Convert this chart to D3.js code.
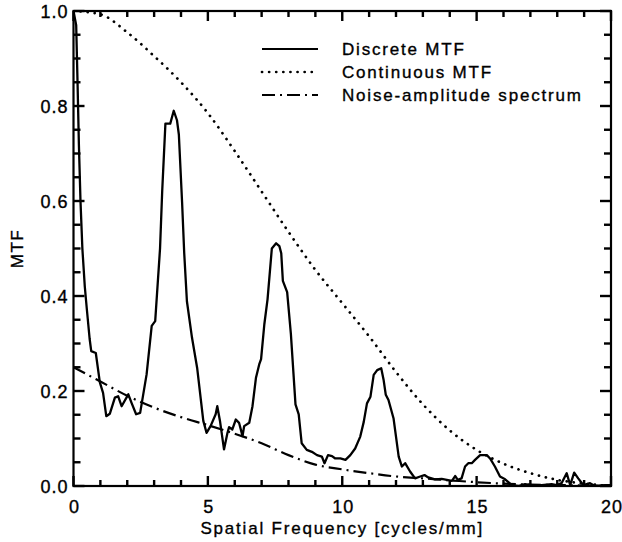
<!DOCTYPE html>
<html>
<head>
<meta charset="utf-8">
<script src="https://cdn.jsdelivr.net/npm/d3@7/dist/d3.min.js"></script>
<style>
html, body { margin: 0; padding: 0; background: #fff; }
svg { display: block; }
text { font-family: "Liberation Sans", Arial, sans-serif; fill: #000; stroke: #000; stroke-width: 0.35px; }
</style>
</head>
<body>
<svg id="chart" width="622" height="542"></svg>
<script>
// ---- data ----
const discreteFreq = [0.0,0.1,0.15,0.2,0.26,0.33,0.42,0.5,0.6,0.66,0.83,0.98,1.1,1.22,1.35,1.54,1.66,1.79,2.04,2.16,2.33,2.48,2.72,2.91,3.04,3.22,3.3,3.42,3.6,3.73,3.85,3.92,4.04,4.12,4.22,4.41,4.6,4.83,4.95,5.1,5.29,5.35,5.45,5.6,5.73,5.79,5.91,6.04,6.16,6.29,6.35,6.54,6.66,6.79,6.91,6.98,7.1,7.22,7.38,7.54,7.66,7.73,7.79,7.95,8.09,8.26,8.38,8.49,8.68,8.87,9.06,9.24,9.34,9.47,9.62,9.74,9.93,10.12,10.3,10.48,10.67,10.8,10.92,11.05,11.17,11.3,11.45,11.54,11.62,11.72,11.91,12.1,12.22,12.34,12.53,12.71,12.9,13.06,13.2,13.45,13.7,13.89,14.08,14.2,14.3,14.44,14.57,14.69,14.82,14.94,15.13,15.38,15.5,15.68,15.87,16.06,16.31,16.55,16.8,17.05,17.42,17.79,17.98,18.16,18.35,18.48,18.63,18.78,18.97,19.22,19.4,19.78,20.0];
const discreteMTF = [1.0,0.97,0.85,0.72,0.6,0.5,0.42,0.37,0.31,0.284,0.28,0.218,0.196,0.147,0.152,0.186,0.189,0.168,0.193,0.175,0.151,0.154,0.235,0.337,0.347,0.5,0.62,0.763,0.763,0.79,0.77,0.74,0.598,0.49,0.389,0.312,0.249,0.137,0.112,0.126,0.151,0.168,0.137,0.077,0.112,0.124,0.119,0.14,0.133,0.105,0.126,0.133,0.168,0.228,0.256,0.267,0.34,0.393,0.5,0.511,0.505,0.49,0.432,0.408,0.319,0.172,0.151,0.09,0.076,0.072,0.065,0.062,0.048,0.065,0.063,0.058,0.058,0.055,0.065,0.079,0.104,0.135,0.174,0.188,0.234,0.244,0.248,0.223,0.192,0.181,0.142,0.062,0.041,0.048,0.030,0.016,0.02,0.023,0.018,0.014,0.015,0.013,0.011,0.021,0.013,0.016,0.041,0.048,0.048,0.055,0.065,0.065,0.058,0.041,0.02,0.014,0.002,0,0.004,0.002,0.002,0.004,0.002,0.006,0.027,0.002,0.028,0.016,0.002,0.006,0,0.002,0.002];

const continuousFreq = [0,1,2,3,4,5,6,7,8,9,10,11,12,13,14,15,16,17,18,19,20];
const continuousMTF  = [1.0,0.993,0.955,0.905,0.85,0.785,0.705,0.62,0.535,0.455,0.385,0.315,0.24,0.172,0.117,0.076,0.047,0.027,0.013,0.005,0.0];

const noiseFreq = [0,1,2,3,4,5,6,7,8,9,10,11,12,13,14,15,16,17,18,19,20];
const noiseAmp  = [0.25,0.22,0.19,0.165,0.145,0.128,0.11,0.09,0.065,0.045,0.035,0.027,0.02,0.016,0.012,0.008,0.005,0.003,0.002,0.001,0.0];

const xTickValues = [0,5,10,15,20];
const xMinorTicks = [1,2,3,4,6,7,8,9,11,12,13,14,16,17,18,19];
const yTickValues = [0.0,0.2,0.4,0.6,0.8,1.0];
const yMinorTicks = [0.05,0.1,0.15,0.25,0.3,0.35,0.45,0.5,0.55,0.65,0.7,0.75,0.85,0.9,0.95];
const legendLabels = ["Discrete MTF","Continuous MTF","Noise-amplitude spectrum"];
const xTitle = "Spatial Frequency [cycles/mm]";
const yTitle = "MTF";

// ---- layout ----
const svg = d3.select("#chart");
const L = 73.5, R = 611, T = 11, B = 486;
const x = d3.scaleLinear().domain([0,20]).range([L,R]);
const y = d3.scaleLinear().domain([0,1]).range([B,T]);

const zip = (a,b) => a.map((v,i)=>[v,b[i]]);
const line = d3.line().x(d=>x(d[0])).y(d=>y(Math.max(0,d[1])));

svg.append("clipPath").attr("id","clip").append("rect")
  .attr("x",L).attr("y",T).attr("width",R-L).attr("height",B-T);
const plot = svg.append("g").attr("clip-path","url(#clip)");

plot.append("path").datum(zip(continuousFreq,continuousMTF))
  .attr("d", line.curve(d3.curveMonotoneX)).attr("fill","none").attr("stroke","#000")
  .attr("stroke-width",2.7).attr("stroke-linecap","round").attr("stroke-dasharray","0.1 7");

plot.append("path").datum(zip(noiseFreq,noiseAmp))
  .attr("d", line.curve(d3.curveMonotoneX)).attr("fill","none").attr("stroke","#000")
  .attr("stroke-width",2.2).attr("stroke-dasharray","13 5 2 5");

plot.append("path").datum(zip(discreteFreq,discreteMTF))
  .attr("d", line.curve(d3.curveLinear)).attr("fill","none").attr("stroke","#000")
  .attr("stroke-width",2.3).attr("stroke-linejoin","round");

// ---- frame ----
svg.append("rect").attr("x",L).attr("y",T).attr("width",R-L).attr("height",B-T)
  .attr("fill","none").attr("stroke","#000").attr("stroke-width",2.2);

// ---- ticks (inward on all four sides) as filled rects positioned by the scales ----
const majorX = 10, minorX = 6, majorY = 11, minorY = 7, tw = 2.4;
const tg = svg.append("g").attr("class","ticks");
function xt(vals, len, cls){
  tg.selectAll("rect.b"+cls).data(vals).join("rect").attr("class","b"+cls)
    .attr("x",d=>x(d)-tw/2).attr("y",B-len).attr("width",tw).attr("height",len).attr("fill","#000");
  tg.selectAll("rect.t"+cls).data(vals).join("rect").attr("class","t"+cls)
    .attr("x",d=>x(d)-tw/2).attr("y",T).attr("width",tw).attr("height",len).attr("fill","#000");
}
function yt(vals, len, cls){
  tg.selectAll("rect.l"+cls).data(vals).join("rect").attr("class","l"+cls)
    .attr("x",L).attr("y",d=>y(d)-tw/2).attr("width",len).attr("height",tw).attr("fill","#000");
  tg.selectAll("rect.r"+cls).data(vals).join("rect").attr("class","r"+cls)
    .attr("x",R-len).attr("y",d=>y(d)-tw/2).attr("width",len).attr("height",tw).attr("fill","#000");
}
xt(xTickValues, majorX, "M"); xt(xMinorTicks, minorX, "m");
yt(yTickValues, majorY, "M"); yt(yMinorTicks, minorY, "m");

// tick labels
svg.append("g").selectAll("text").data(xTickValues).join("text")
  .attr("x",d=>x(d)+1).attr("y",B+27).attr("text-anchor","middle")
  .attr("font-size",18).attr("letter-spacing",1).text(d=>d3.format("d")(d));
svg.append("g").selectAll("text").data(yTickValues).join("text")
  .attr("x",L-5).attr("y",d=>y(d)+6.5).attr("text-anchor","end")
  .attr("font-size",18).attr("letter-spacing",1).text(d=>d3.format(".1f")(d));

// titles
svg.append("text").attr("x",(L+R)/2).attr("y",B+48).attr("text-anchor","middle")
  .attr("font-size",17).attr("letter-spacing",1.8).text(xTitle);
svg.append("text").attr("transform",`translate(23,${(T+B)/2}) rotate(-90)`)
  .attr("text-anchor","middle").attr("font-size",17).attr("letter-spacing",1.5).text(yTitle);

// legend
const legStyles = [
  {w:2.2, dash:null, cap:"butt"},
  {w:2.7, dash:"0.1 7", cap:"round"},
  {w:2.2, dash:"13 5 2 5", cap:"butt"}
];
const lg = svg.append("g");
legendLabels.forEach((lab,i)=>{
  const yy = 49 + i*23;
  lg.append("line").attr("x1",262).attr("x2",318).attr("y1",yy).attr("y2",yy)
    .attr("stroke","#000").attr("stroke-width",legStyles[i].w)
    .attr("stroke-dasharray",legStyles[i].dash).attr("stroke-linecap",legStyles[i].cap);
  lg.append("text").attr("x",342).attr("y",yy+6).attr("font-size",17).attr("letter-spacing",1.8).text(lab);
});
</script>
</body>
</html>
